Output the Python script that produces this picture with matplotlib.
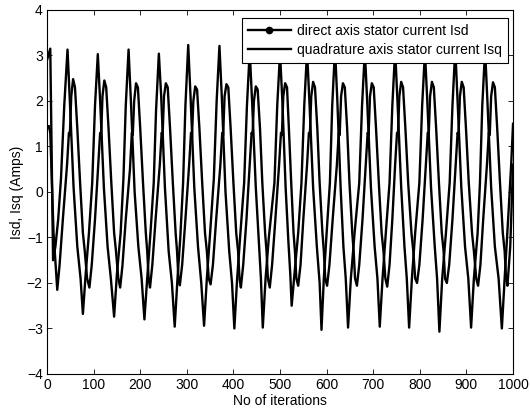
import matplotlib
matplotlib.use("Agg")
import matplotlib.pyplot as plt
from matplotlib.lines import Line2D

plt.rcParams['font.family'] = ['Liberation Sans', 'DejaVu Sans']

# Isq: corriente de eje en cuadratura (vertices)
isq_it = [0, 7, 13, 18, 24, 30, 37, 44, 49, 57, 65, 72, 77,
          83, 90, 97, 103, 109, 114, 122, 130, 137, 144,
          150, 158, 164, 169, 175, 180, 188, 196, 203, 209,
          215, 222, 229, 234, 240, 245, 253, 261, 268, 274,
          280, 286, 292, 297, 303, 308, 316, 324, 331, 337,
          343, 350, 358, 364, 370, 375, 383, 391, 397, 402,
          408, 415, 423, 429, 435, 440, 448, 455, 459, 463,
          469, 476, 488, 494, 500, 505, 512, 518, 522, 525,
          531, 539, 546, 552, 558, 563, 571, 579, 585, 589,
          594, 600, 607, 612, 618, 623, 630, 636, 641, 646,
          652, 660, 670, 676, 682, 687, 695, 703, 709, 714,
          720, 727, 735, 741, 747, 752, 760, 767, 772, 777,
          783, 790, 799, 805, 811, 816, 824, 832, 837, 842,
          848, 856, 864, 870, 876, 881, 889, 897, 904, 910,
          916, 924, 929, 934, 940, 945, 953, 961, 969, 976,
          982, 990, 996, 1000]
isq_val = [2.9, 3.15, -1.5, -1.2, -0.6, 0.3, 1.9, 3.13, 2.0, 0.1, -1.2, -1.9, -2.68,
           -1.8, -0.9, 0.2, 1.9, 3.03, 2.0, 0.1, -1.2, -1.9, -2.74,
           -1.8, -0.9, 0.3, 1.9, 3.13, 2.0, 0.0, -1.2, -1.9, -2.8,
           -1.9, -0.9, 0.2, 1.8, 3.04, 2.1, 0.1, -1.3, -2.0, -2.96,
           -1.9, -1.0, 0.2, 1.9, 3.23, 2.1, 0.1, -1.2, -2.0, -2.94,
           -1.9, -0.9, 0.3, 2.0, 3.21, 2.1, 0.0, -1.3, -2.0, -3.0,
           -1.9, -0.9, 0.2, 1.9, 3.1, 2.0, 0.1, -1.2, -1.9, -2.98,
           -1.9, -1.0, 0.2, 1.9, 3.05, 2.0, 0.1, -1.1, -1.8, -2.5,
           -1.8, -0.9, 0.2, 1.9, 3.1, 2.0, 0.1, -1.2, -2.0, -3.03,
           -1.9, -0.9, 0.2, 1.9, 3.15, 2.0, 0.1, -1.2, -1.9, -2.98,
           -1.9, -0.9, 0.2, 1.9, 3.1, 2.0, 0.1, -1.2, -1.9, -2.96,
           -1.9, -0.9, 0.2, 1.9, 3.12, 2.0, 0.1, -1.2, -1.9, -2.98,
           -1.9, -0.9, 0.2, 1.9, 3.08, 2.0, 0.1, -1.2, -1.9, -3.07,
           -1.9, -0.9, 0.2, 1.9, 3.15, 2.0, 0.1, -1.2, -1.9, -2.98,
           -1.9, -0.9, 0.2, 1.9, 3.12, 2.0, 0.1, -1.2, -1.9, -3.0,
           -1.9, -0.5, 0.6, 1.5]

# Isd: corriente de eje directo
isd_it = [0, 4, 7, 14, 22,
          27, 34, 43, 47, 49, 52, 56, 60, 65, 71, 77, 81, 86, 91,
          96, 103, 110, 114, 116, 119, 123, 127, 132, 138, 144, 148, 153, 157,
          162, 169, 178, 182, 184, 187, 191, 195, 200, 206, 212, 215, 218, 221,
          226, 233, 242, 246, 248, 251, 255, 259, 264, 270, 276, 279, 282, 285,
          290, 297, 305, 309, 311, 314, 318, 322, 327, 333, 339, 343, 347, 351,
          356, 363, 372, 376, 378, 381, 385, 389, 394, 400, 406, 410, 413, 416,
          421, 428, 435, 439, 441, 444, 448, 452, 457, 462, 468, 471, 474, 478,
          483, 490, 498, 502, 504, 507, 511, 515, 519, 524, 529, 532, 535, 539,
          544, 550, 558, 562, 564, 567, 571, 575, 580, 585, 591, 594, 597, 601,
          606, 613, 622, 626, 628, 631, 635, 639, 644, 649, 655, 658, 661, 665,
          670, 677, 684, 688, 690, 693, 697, 701, 706, 712, 718, 722, 726, 730,
          735, 741, 747, 751, 753, 756, 760, 764, 769, 775, 782, 786, 790, 794,
          799, 806, 813, 817, 819, 822, 826, 830, 835, 841, 847, 851, 854, 858,
          863, 870, 877, 881, 883, 886, 890, 894, 899, 905, 912, 916, 921, 925,
          930, 936, 944, 948, 950, 953, 957, 961, 966, 972, 978, 982, 985, 988,
          994, 1000]
isd_val = [1.4, 1.45, 1.3, -0.9, -2.15,
           -1.6, -0.6, 0.6, 1.3, 1.25, 2.1, 2.48, 2.3, 1.4, 0.2, -0.9, -1.3, -1.9, -2.1,
           -1.6, -0.6, 0.6, 1.3, 1.2, 2.1, 2.45, 2.3, 1.4, 0.2, -0.9, -1.3, -1.9, -2.1,
           -1.6, -0.6, 0.5, 1.3, 1.25, 2.0, 2.39, 2.3, 1.4, 0.2, -0.9, -1.3, -1.9, -2.1,
           -1.6, -0.6, 0.6, 1.3, 1.25, 2.1, 2.39, 2.3, 1.4, 0.2, -0.9, -1.3, -1.9, -2.05,
           -1.6, -0.6, 0.6, 1.3, 1.2, 2.0, 2.32, 2.25, 1.4, 0.2, -0.9, -1.3, -1.9, -2.03,
           -1.6, -0.6, 0.6, 1.3, 1.25, 2.1, 2.37, 2.3, 1.4, 0.2, -0.9, -1.3, -1.9, -2.1,
           -1.6, -0.6, 0.6, 1.3, 1.25, 2.0, 2.32, 2.25, 1.4, 0.2, -0.9, -1.3, -1.9, -2.1,
           -1.6, -0.6, 0.6, 1.3, 1.25, 2.1, 2.39, 2.3, 1.4, 0.2, -0.9, -1.3, -1.9, -2.06,
           -1.6, -0.6, 0.6, 1.3, 1.25, 2.1, 2.42, 2.3, 1.4, 0.2, -0.9, -1.3, -1.9, -2.06,
           -1.6, -0.6, 0.6, 1.3, 1.25, 2.1, 2.39, 2.3, 1.4, 0.2, -0.9, -1.3, -1.9, -2.06,
           -1.6, -0.6, 0.6, 1.3, 1.25, 2.1, 2.39, 2.3, 1.4, 0.2, -0.9, -1.3, -1.9, -2.08,
           -1.6, -0.6, 0.6, 1.3, 1.25, 2.1, 2.42, 2.3, 1.4, 0.2, -0.9, -1.3, -1.9, -2.0,
           -1.6, -0.6, 0.6, 1.3, 1.25, 2.1, 2.42, 2.3, 1.4, 0.2, -0.9, -1.3, -1.9, -2.0,
           -1.6, -0.6, 0.6, 1.3, 1.25, 2.1, 2.42, 2.3, 1.4, 0.2, -0.9, -1.3, -1.9, -2.06,
           -1.6, -0.6, 0.6, 1.3, 1.25, 2.1, 2.41, 2.3, 1.4, 0.2, -0.9, -1.3, -1.9, -2.06,
           -1.2, 0.6]

fig = plt.figure(figsize=(5.3, 4.16), dpi=100)
ax = fig.add_axes([0.0887, 0.101, 0.8793, 0.875])

ax.plot(isd_it, isd_val, color="black", linewidth=1.7)
ax.plot(isq_it, isq_val, color="black", linewidth=1.7)

ax.set_xlim(0, 1000)
ax.set_ylim(-4, 4)
ax.set_xticks(range(0, 1001, 100))
ax.set_yticks(range(-4, 5))
ax.tick_params(direction="in", top=True, right=True, labelsize=10, length=3.5, width=0.6, pad=3)
for s in ax.spines.values():
    s.set_linewidth(0.8)
ax.set_xlabel("No of iterations", fontsize=10, labelpad=1)
ax.set_ylabel("Isd, Isq (Amps)", fontsize=10, labelpad=2)

handles = [Line2D([], [], color="black", linewidth=1.7, marker=".", markersize=9),
           Line2D([], [], color="black", linewidth=1.7)]
leg = ax.legend(handles, ["direct axis stator current Isd", "quadrature axis stator current Isq"],
                loc="upper right", bbox_to_anchor=(0.99, 0.978), fontsize=10,
                fancybox=False, framealpha=1, edgecolor="black", borderpad=0.45,
                handlelength=3.1, handletextpad=0.45, labelspacing=0.35, borderaxespad=0)
leg.get_frame().set_linewidth(0.8)

fig.savefig("out.png", dpi=100)
